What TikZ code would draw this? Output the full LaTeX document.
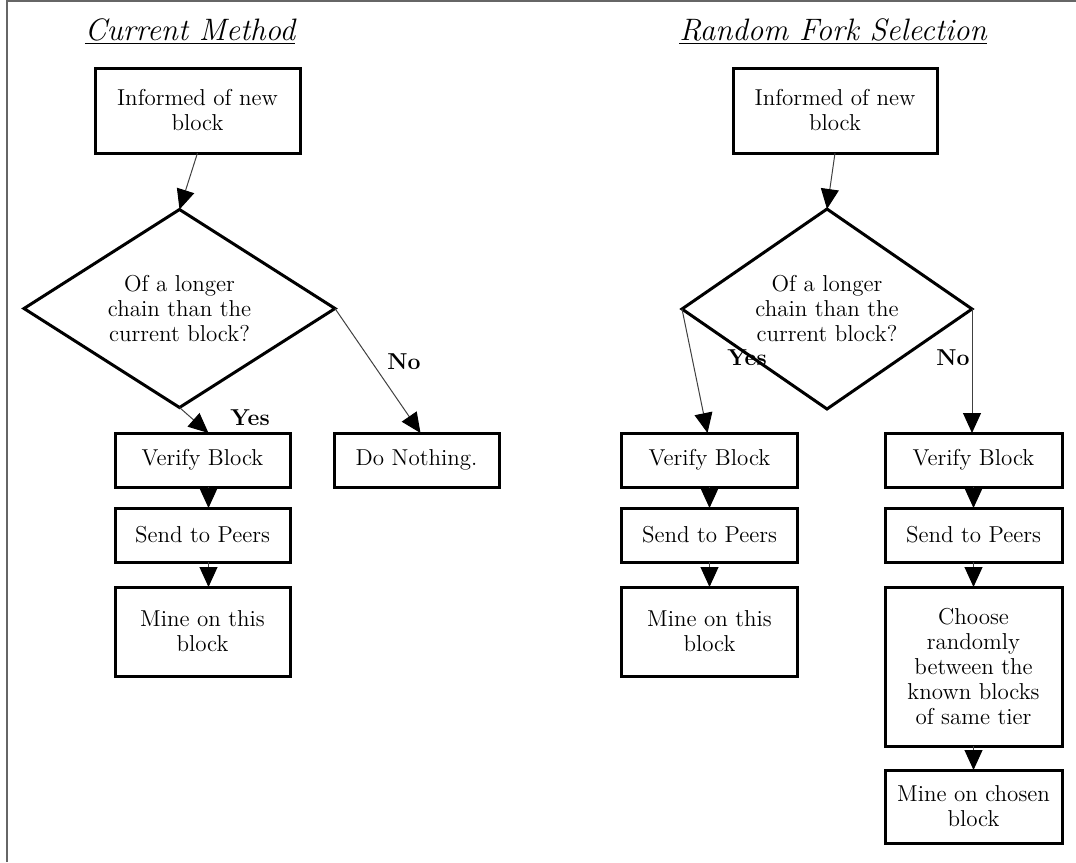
\documentclass[tikz,border=0pt]{standalone}
\usetikzlibrary{shapes.geometric,arrows.meta}
\newcommand{\zw}[1]{\makebox[0pt]{#1}}
\begin{document}
\begin{tikzpicture}[x=0.5pt,y=-0.5pt,
  box/.style={draw,line width=1.5pt,inner sep=0pt,outer sep=0pt,align=center,font=\fontsize{11.5}{12.5}\selectfont},
  dec/.style={draw,diamond,line width=1.5pt,inner sep=0pt,outer sep=0pt,align=center,font=\fontsize{11.5}{12.5}\selectfont},
  arr/.style={draw=black!75,line width=0.5pt,-{Triangle[width=9pt,length=10pt,color=black]}},
  lab/.style={font=\fontsize{11.5}{13}\selectfont\bfseries},
  ttl/.style={font=\fontsize{15.5}{18}\selectfont\itshape,anchor=base}]
\useasboundingbox (0,0) rectangle (1076,862);
\draw[black!60,line width=1pt] (7,862) -- (7,1) -- (1076,1);
% titles
\node[ttl] (t1) at (190,40) {\underline{Current Method}};
\node[ttl] (t2) at (833,40) {\underline{Random Fork Selection}};
% left column
\node[box,minimum width=102.5pt,minimum height=42.5pt] (a1) at (197.5,110.5) {Informed of new\\block};
\node[dec,minimum width=155.5pt,minimum height=99pt] (ad) at (179.5,308.5) {\zw{Of a longer}\\\zw{chain than the}\\\zw{current block?}};
\node[box,minimum width=87.5pt,minimum height=27pt] (av) at (202.5,460) {Verify Block};
\node[box,minimum width=87.5pt,minimum height=27pt] (as) at (202.5,535) {Send to Peers};
\node[box,minimum width=87.5pt,minimum height=44.5pt] (am) at (202.5,631.5) {Mine on this\\block};
\node[box,minimum width=82.5pt,minimum height=27pt] (an) at (416.5,460) {Do Nothing.};
\draw[arr] ([xshift=0pt]a1.south) -- (ad.north);
\draw[arr] (ad.south) -- ([xshift=3pt]av.north);
\draw[arr] (ad.east) -- ([xshift=2pt]an.north);
\draw[arr] ([xshift=3pt]av.south) -- ([xshift=3pt]as.north);
\draw[arr] ([xshift=3pt]as.south) -- ([xshift=3pt]am.north);
\node[lab] (ly) at (250,418) {Yes};
\node[lab] (ln) at (404,362) {No};
% right column
\node[box,minimum width=102pt,minimum height=42.5pt] (b1) at (835,110.5) {Informed of new\\block};
\node[dec,minimum width=145pt,minimum height=100pt] (bd) at (827,309) {\zw{Of a longer}\\\zw{chain than the}\\\zw{current block?}};
\node[box,minimum width=88pt,minimum height=27pt] (bv) at (709.5,460) {Verify Block};
\node[box,minimum width=88pt,minimum height=27pt] (bs) at (709.5,535) {Send to Peers};
\node[box,minimum width=88pt,minimum height=44.5pt] (bm) at (709.5,631.5) {Mine on this\\block};
\node[box,minimum width=88.5pt,minimum height=27pt] (cv) at (973.5,460) {Verify Block};
\node[box,minimum width=88.5pt,minimum height=27pt] (cs) at (973.5,535) {Send to Peers};
\node[box,minimum width=88.5pt,minimum height=79.5pt] (cc) at (973.5,666.5) {Choose\\randomly\\between the\\known blocks\\of same tier};
\node[box,minimum width=88.5pt,minimum height=36.5pt] (cm) at (973.5,806.5) {Mine on chosen\\block};
\draw[arr] (b1.south) -- (bd.north);
\draw[arr] (bd.west) -- ([xshift=-1pt]bv.north);
\draw[arr] (bd.east) -- (bd.east |- cv.north);
\draw[arr] (bv.south) -- (bs.north);
\draw[arr] (bs.south) -- (bm.north);
\draw[arr] (cv.south) -- (cs.north);
\draw[arr] (cs.south) -- (cc.north);
\draw[arr] (cc.south) -- (cm.north);
\node[lab] (ry) at (747,358) {Yes};
\node[lab] (rn) at (953,358) {No};
\end{tikzpicture}
\end{document}
